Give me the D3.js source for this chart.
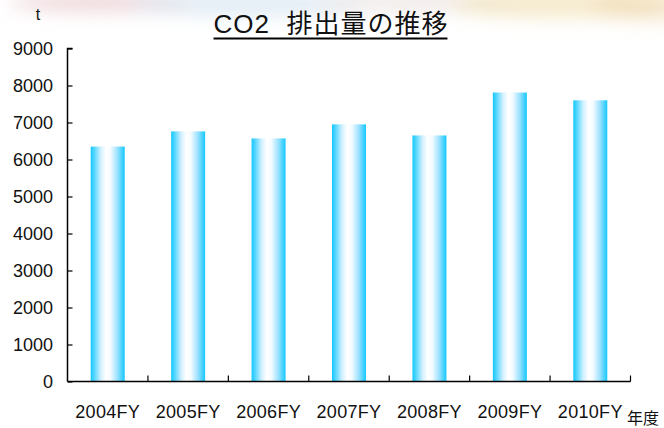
<!DOCTYPE html>
<html>
<head>
<meta charset="utf-8">
<script src="https://cdn.jsdelivr.net/npm/d3@7/dist/d3.min.js"></script>
<style>
  html, body { margin: 0; padding: 0; background: #fff; }
  svg { display: block; }
</style>
</head>
<body>
<svg id="chart" width="664" height="428"></svg>
<script>
// CO2 emissions by fiscal year (tonnes)
const categories = ["2004FY", "2005FY", "2006FY", "2007FY", "2008FY", "2009FY", "2010FY"];
const emissions = [6350, 6760, 6570, 6950, 6650, 7810, 7600];
const yTicks = [0, 1000, 2000, 3000, 4000, 5000, 6000, 7000, 8000, 9000];

const plot = { left: 67.5, right: 630.5, top: 48.5, bottom: 381.5 };
const svg = d3.select("#chart");
const defs = svg.append("defs");

// soft decorative header wash
const blur = defs.append("filter").attr("id", "soft")
  .attr("x", "-30%").attr("y", "-200%").attr("width", "160%").attr("height", "500%");
blur.append("feGaussianBlur").attr("stdDeviation", 9);
const header = svg.append("g").attr("filter", "url(#soft)");
const blobs = [
  { cx: 100, cy: 2, rx: 90, ry: 10, c: "#e8c8cc", o: 0.7 },
  { cx: 250, cy: 4, rx: 120, ry: 12, c: "#cfe0ee", o: 0.6 },
  { cx: 420, cy: 2, rx: 100, ry: 10, c: "#e6dcd8", o: 0.6 },
  { cx: 560, cy: 4, rx: 110, ry: 14, c: "#f2e2b8", o: 0.7 },
  { cx: 650, cy: 6, rx: 60, ry: 14, c: "#f0d8b0", o: 0.6 }
];
header.selectAll("ellipse").data(blobs).join("ellipse")
  .attr("cx", d => d.cx).attr("cy", d => d.cy)
  .attr("rx", d => d.rx).attr("ry", d => d.ry)
  .attr("fill", d => d.c).attr("opacity", d => d.o);

// cylinder-like horizontal gradient for the bars
const grad = defs.append("linearGradient").attr("id", "barGrad")
  .attr("x1", "0%").attr("x2", "100%").attr("y1", "0%").attr("y2", "0%");
[["0%", "#14c8ff"], ["12%", "#5dd8ff"], ["30%", "#d4f1ff"], ["45%", "#ffffff"],
 ["58%", "#f4fbff"], ["78%", "#9fe2ff"], ["100%", "#14c8ff"]]
  .forEach(([o, c]) => grad.append("stop").attr("offset", o).attr("stop-color", c));

const xb = d3.scaleBand().domain(categories).range([plot.left, plot.right]);
const y = d3.scaleLinear().domain([0, 9000]).range([plot.bottom, plot.top]);
const barW = 34;

// bars
svg.append("g").selectAll("rect").data(categories).join("rect")
  .attr("x", d => xb(d) + xb.bandwidth() / 2 - barW / 2)
  .attr("width", barW)
  .attr("y", (d, i) => y(emissions[i]))
  .attr("height", (d, i) => y(0) - y(emissions[i]))
  .attr("fill", "url(#barGrad)");

const labelFont = '"Liberation Sans", Arial, sans-serif';

// y axis: inward ticks, labels on the left
const yAxis = svg.append("g").attr("transform", `translate(${plot.left},0)`)
  .call(d3.axisRight(y).tickValues(yTicks).tickSize(5).tickFormat(""));
yAxis.select(".domain").attr("d", `M5,${plot.top}H0V${plot.bottom}`).attr("stroke", "#000").attr("stroke-width", 1.5);
yAxis.selectAll(".tick line").attr("stroke", "#000").attr("stroke-width", 1.2);

svg.append("g").selectAll("text").data(yTicks).join("text")
  .attr("x", 53).attr("y", d => y(d)).attr("dy", "0.36em")
  .attr("text-anchor", "end")
  .attr("font-family", labelFont).attr("font-size", 18).attr("fill", "#111")
  .text(d => d);

// x axis: ticks at category boundaries, pointing up
const xAxis = svg.append("g").attr("transform", `translate(0,${plot.bottom})`);
xAxis.append("line").attr("x1", plot.left).attr("x2", plot.right)
  .attr("stroke", "#000").attr("stroke-width", 1.5);
xAxis.selectAll("line.tk").data(categories).join("line")
  .attr("class", "tk")
  .attr("x1", d => xb(d) + xb.step())
  .attr("x2", d => xb(d) + xb.step())
  .attr("y1", 0).attr("y2", -6)
  .attr("stroke", "#000").attr("stroke-width", 1.2);

svg.append("g").selectAll("text").data(categories).join("text")
  .attr("x", d => xb(d) + xb.bandwidth() / 2)
  .attr("y", 418)
  .attr("text-anchor", "middle")
  .attr("font-family", labelFont).attr("font-size", 18).attr("fill", "#111")
  .attr("letter-spacing", 0.3)
  .text(d => d);

// unit labels
svg.append("text").attr("x", 38).attr("y", 20)
  .attr("text-anchor", "middle")
  .attr("font-family", labelFont).attr("font-size", 16).attr("fill", "#111")
  .text("t");
svg.append("text").attr("x", 627).attr("y", 424)
  .attr("font-family", '"Noto Sans CJK JP", sans-serif').attr("font-size", 16).attr("fill", "#111")
  .text("年度");

// title with underline
const title = svg.append("text").attr("x", 331).attr("y", 33)
  .attr("text-anchor", "middle")
  .attr("font-family", '"Liberation Sans", "Noto Sans CJK JP", sans-serif')
  .attr("font-size", 26).attr("fill", "#111")
  .attr("letter-spacing", 1)
  .attr("xml:space", "preserve")
  .text("CO2  排出量の推移");
const bb = title.node().getBBox();
svg.append("line").attr("x1", bb.x).attr("x2", bb.x + bb.width - 1)
  .attr("y1", 38.5).attr("y2", 38.5).attr("stroke", "#000").attr("stroke-width", 2);
</script>
</body>
</html>
